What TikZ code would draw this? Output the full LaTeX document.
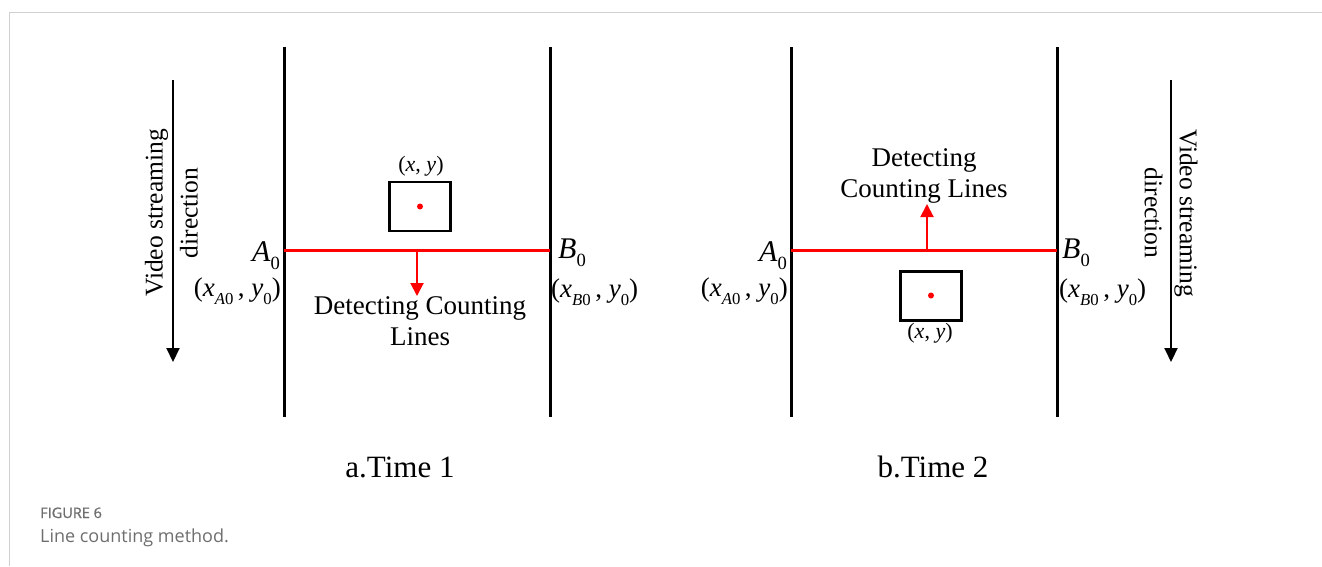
\documentclass[tikz,border=0pt]{standalone}
\usepackage{fontspec}
\setmainfont{Liberation Serif}
\newfontfamily\capfont{Open Sans}
\newfontfamily\capfontsb{Open Sans}[FakeBold=1.2]
\usepackage{graphicx}
\usetikzlibrary{arrows.meta}
\definecolor{capgray}{HTML}{6E6E6E}
\definecolor{framegray}{HTML}{D0D0D0}
\definecolor{pred}{HTML}{FF0000}
\newcommand{\lsub}[1]{\raisebox{-0.28em}{\scalebox{0.62}{#1}}}
\begin{document}
\begin{tikzpicture}[x=1pt,y=-1pt,
  pole/.style={line width=3pt},
  cline/.style={pred, line width=3pt},
  redarrow/.style={pred, line width=2pt, -{Triangle[length=13pt,width=13pt]}},
  vidarrow/.style={black, line width=2pt, -{Triangle[length=14pt,width=13pt]}},
  bbox/.style={draw, line width=2.5pt, minimum width=61pt, minimum height=49pt, inner sep=0pt},
  dot/.style={circle, fill=pred, inner sep=0pt, minimum size=6pt},
  ptlbl/.style={inner sep=0pt, font=\fontsize{30}{34}\selectfont},
  coordlbl/.style={inner sep=0pt, font=\fontsize{27}{32}\selectfont},
  smalllbl/.style={inner sep=0pt, font=\fontsize{22}{26}\selectfont},
  dettext/.style={inner sep=0pt, align=center, font=\fontsize{27}{31.5}\selectfont},
  vidtext/.style={inner sep=0pt, align=center, font=\fontsize{25.5}{35}\selectfont},
  timetext/.style={inner sep=0pt, font=\fontsize{31}{36}\selectfont}
]
\useasboundingbox (0,0) rectangle (1322,566);
% frame
\draw[framegray, line width=1pt] (1322,12) -- (9,12) -- (9,566);

% ---------- panel a ----------
\coordinate (aLt) at (284,47);
\coordinate (aLb) at (284,417);
\coordinate (aRt) at (550,47);
\coordinate (aRb) at (550,417);
\draw[pole] (aLt) -- (aLb);
\draw[pole] (aRt) -- (aRb);
\coordinate (aA) at (284,250);
\coordinate (aB) at (550,250);
\draw[cline] (aA) -- (aB);
\node[bbox] (abox) at (420,206.5) {};
\node[dot] (adot) at (420,206.5) {};
\node[smalllbl] (axy) at (421,166) {(\textit{x}, \textit{y})};
\node[dettext, anchor=north] (adet) at (420,296) {Detecting Counting\\Lines};
\coordinate (aArr) at (417,250);
\draw[redarrow] (aArr) -- (aArr |- adet.north);
\node[ptlbl, anchor=base east] (aA0) at (280,261) {\textit{A}\lsub{0}};
\node[coordlbl, anchor=east] (aA0c) at (281,291) {(\textit{x}\lsub{\textit{A}0}\,, \textit{y}\lsub{0})};
\node[ptlbl, anchor=base west] (aB0) at (558,258) {\textit{B}\lsub{0}};
\node[coordlbl, anchor=west] (aB0c) at (551,292) {(\textit{x}\lsub{\textit{B}0}\,, \textit{y}\lsub{0})};
\coordinate (av1) at (173,80);
\coordinate (av2) at (173,362);
\draw[vidarrow] (av1) -- (av2);
\node[vidtext, rotate=90] (avtext) at (171.5,213) {Video streaming\\direction};
\node[timetext] (atime) at (400,467) {a.Time 1};

% ---------- panel b ----------
\coordinate (bLt) at (791,47);
\coordinate (bLb) at (791,417);
\coordinate (bRt) at (1057,47);
\coordinate (bRb) at (1057,417);
\draw[pole] (bLt) -- (bLb);
\draw[pole] (bRt) -- (bRb);
\coordinate (bA) at (791,250);
\coordinate (bB) at (1057,250);
\draw[cline] (bA) -- (bB);
\node[bbox] (bbx) at (931,296) {};
\node[dot] (bdot) at (931,295.5) {};
\node[smalllbl] (bxy) at (930,333) {(\textit{x}, \textit{y})};
\node[dettext, anchor=south] (bdet) at (924,204) {Detecting\\Counting Lines};
\coordinate (bArr) at (927,250);
\draw[redarrow] (bArr) -- (bArr |- bdet.south);
\node[ptlbl, anchor=base east] (bA0) at (787,261) {\textit{A}\lsub{0}};
\node[coordlbl, anchor=east] (bA0c) at (788,291) {(\textit{x}\lsub{\textit{A}0}\,, \textit{y}\lsub{0})};
\node[ptlbl, anchor=base west] (bB0) at (1062,258) {\textit{B}\lsub{0}};
\node[coordlbl, anchor=west] (bB0c) at (1059,292) {(\textit{x}\lsub{\textit{B}0}\,, \textit{y}\lsub{0})};
\coordinate (bv1) at (1171,80);
\coordinate (bv2) at (1171,362);
\draw[vidarrow] (bv1) -- (bv2);
\node[vidtext, rotate=-90] (bvtext) at (1171,213) {Video streaming\\direction};
\node[timetext] (btime) at (933,467) {b.Time 2};

% ---------- caption ----------
\node[anchor=base west, inner sep=0pt, text=capgray, font=\capfontsb\fontsize{14.5}{17}\selectfont] (figlbl) at (40,518) {FIGURE 6};
\node[anchor=base west, inner sep=0pt, text=capgray, font=\capfont\fontsize{18}{21}\selectfont] (figcap) at (40,542) {Line counting method.};
\end{tikzpicture}
\end{document}
